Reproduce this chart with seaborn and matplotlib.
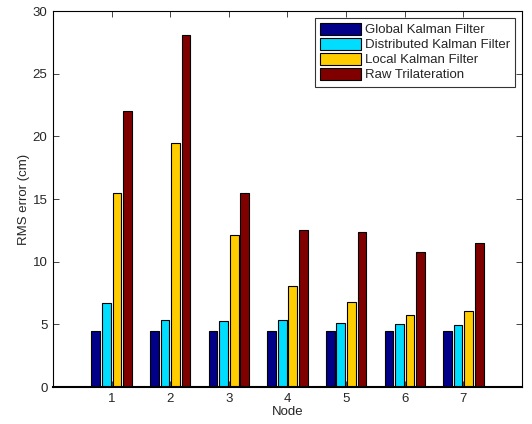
import pandas as pd
import matplotlib
matplotlib.use('Agg')
import matplotlib.pyplot as plt
import seaborn as sns

# values
nodes = ['1', '2', '3', '4', '5', '6', '7']
global_kf = [4.5, 4.5, 4.5, 4.5, 4.5, 4.5, 4.5]
distributed_kf = [6.73, 5.38, 5.27, 5.38, 5.11, 5.06, 4.98]
local_kf = [15.5, 19.45, 12.15, 8.05, 6.8, 5.78, 6.1]
raw_tri = [22.0, 28.05, 15.5, 12.5, 12.4, 10.75, 11.5]

series = ['Global Kalman Filter', 'Distributed Kalman Filter',
          'Local Kalman Filter', 'Raw Trilateration']
colors = ['#000088', '#00DDFF', '#FFCC00', '#800000']

df = pd.DataFrame({'Node': nodes * 4,
                   'Method': [s for s in series for _ in nodes],
                   'RMS': global_kf + distributed_kf + local_kf + raw_tri})

sns.set_style('white')
plt.rcParams['font.family'] = ['Liberation Sans', 'DejaVu Sans']

fig = plt.figure(figsize=(5.32, 4.24), dpi=100)
ax = fig.add_axes([0.0996, 0.087, 0.8816, 0.887])

sns.barplot(data=df, x='Node', y='RMS', hue='Method', palette=colors,
            saturation=1, width=0.72, gap=0.17, edgecolor='black',
            linewidth=0.8, errorbar=None, ax=ax)

ax.set_xlim(-1, 7)
ax.set_ylim(0, 30)
ax.set_yticks([0, 5, 10, 15, 20, 25, 30])
ax.set_xlabel('Node', fontsize=9.5, labelpad=1)
ax.set_ylabel('RMS error (cm)', fontsize=9.5, labelpad=2)
ax.tick_params(direction='in', length=4, width=0.6, labelsize=9.5,
               top=True, right=True, bottom=True, left=True, pad=4)
for sp in ax.spines.values():
    sp.set_visible(True)
    sp.set_color('black')
    sp.set_linewidth(0.8)
ax.spines['bottom'].set_linewidth(1.5)

leg = ax.legend(loc='upper right', fontsize=9.5, frameon=True, fancybox=False,
                edgecolor='black', handlelength=3.1, handleheight=1.0,
                handletextpad=0.3, labelspacing=0.12, borderpad=0.4,
                borderaxespad=0.5)
leg.get_frame().set_linewidth(0.8)

fig.savefig('out.png', dpi=100)
